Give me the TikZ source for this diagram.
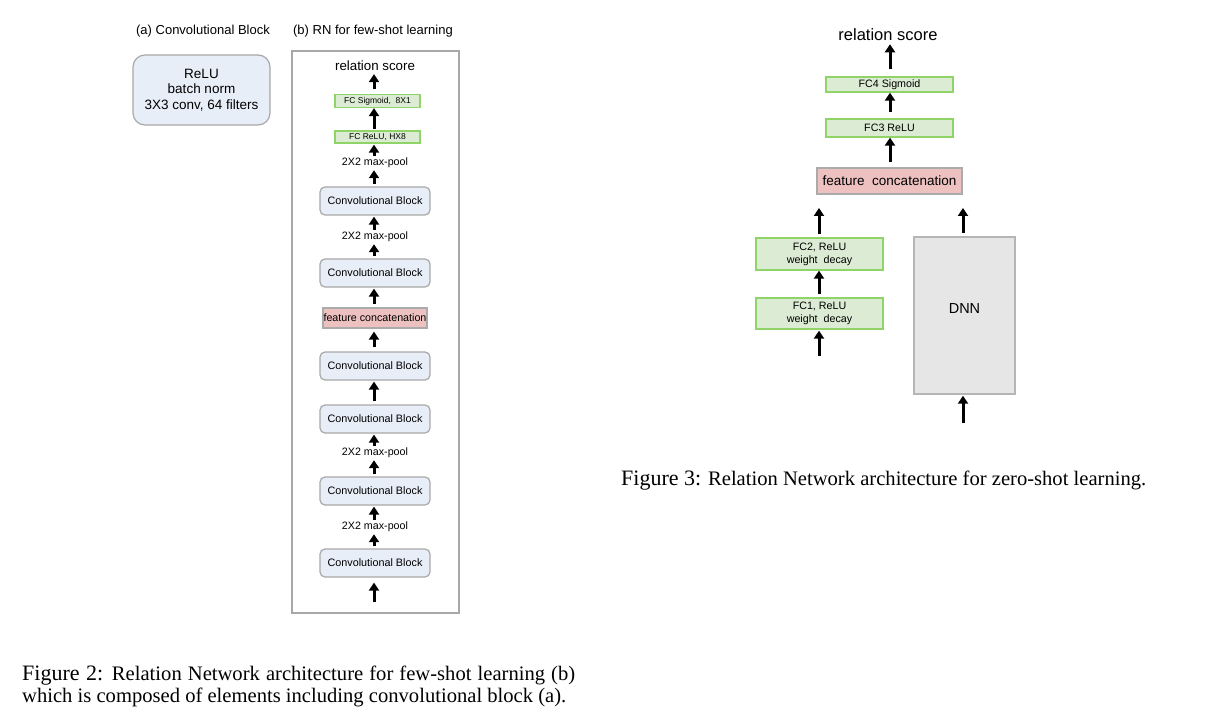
\documentclass[tikz,border=0pt]{standalone}
\usepackage{fontspec}
\setmainfont{Liberation Serif}
\setsansfont{Liberation Sans}
\usetikzlibrary{arrows.meta}
\definecolor{cbfill}{HTML}{E8EEF8}
\definecolor{cbdraw}{HTML}{A8A8A8}
\definecolor{gfill}{HTML}{DCEBD3}
\definecolor{gdraw}{HTML}{8FD466}
\definecolor{pfill}{HTML}{EEC1C1}
\definecolor{pdraw}{HTML}{ABABAB}
\definecolor{dfill}{HTML}{E6E6E6}
\definecolor{ddraw}{HTML}{B5B5B5}
\newcommand{\fs}[1]{\fontsize{#1}{#1}\selectfont}
\tikzset{
  lbl/.style={font=\sffamily\fs{10.7}, inner sep=1pt},
  convblk/.style={draw=cbdraw, fill=cbfill, line width=1.2pt, rounded corners=5pt,
    minimum width=110pt, minimum height=28pt, inner sep=0pt, font=\sffamily\fs{10.8}},
  gbox/.style={draw=gdraw, fill=gfill, line width=1.3pt, inner sep=0pt, align=center},
  pbox/.style={draw=pdraw, fill=pfill, line width=1.3pt, inner sep=0pt},
  arr/.style={line width=3pt, -{Triangle[width=10pt,length=8pt]}},
}
\begin{document}
\begin{tikzpicture}[x=1pt,y=-1pt]
\useasboundingbox[fill=white] (0,0) rectangle (1214,727);

% ---------- Figure 2 ----------
\node[font=\sffamily\fs{13}] (ta) at (203,31) {(a) Convolutional Block};
\node[font=\sffamily\fs{13}] (tb) at (373,31) {(b) RN for few-shot learning};

\node[draw=cbdraw, fill=cbfill, line width=1.2pt, rounded corners=12pt,
  minimum width=137pt, minimum height=70pt, align=center, inner sep=0pt,
  font=\sffamily\fs{13.5}, execute at begin node={\baselineskip=15.5pt}] (blka) at (201.5,90)
  {ReLU\\batch norm\\3X3 conv, 64 filters};

\node[draw=cbdraw, line width=1.2pt, minimum width=167pt, minimum height=562pt, inner sep=0pt] (panel) at (375.5,332) {};

\node[font=\sffamily\fs{13.3}, inner sep=1pt] (rs1) at (375,66) {relation score};
\node[gbox, minimum width=85pt, minimum height=13pt, font=\sffamily\fs{8.5}] (fcs) at (377.5,101) {FC Sigmoid,\ \ 8X1};
\node[gbox, minimum width=85pt, minimum height=12pt, font=\sffamily\fs{8.5}] (fcr) at (377.5,137) {FC ReLU, HX8};
\node[lbl] (mp1) at (375,163) {2X2 max-pool};
\node[convblk] (cb1) at (375,201) {Convolutional Block};
\node[lbl] (mp2) at (375,237) {2X2 max-pool};
\node[convblk] (cb2) at (375,273) {Convolutional Block};
\node[pbox, minimum width=104pt, minimum height=20pt, font=\sffamily\fs{10.7}] (fcat) at (375,318) {feature concatenation};
\node[convblk] (cb3) at (375,366) {Convolutional Block};
\node[convblk] (cb4) at (375,419) {Convolutional Block};
\node[lbl] (mp3) at (375,453) {2X2 max-pool};
\node[convblk] (cb5) at (375,491) {Convolutional Block};
\node[lbl] (mp4) at (375,527) {2X2 max-pool};
\node[convblk] (cb6) at (375,563) {Convolutional Block};
\coordinate (in1) at (374,602);

\draw[arr, shorten <=5pt, shorten >=2pt] (fcs.north -| 374,0) -- (rs1.south -| 374,0);
\draw[arr, shorten <=1pt] (fcr.north -| 374,0) -- (fcs.south -| 374,0);
\draw[arr, shorten <=1pt, shorten >=1pt] (mp1.north -| 374,0) -- (fcr.south -| 374,0);
\draw[arr, shorten <=2pt, shorten >=1pt] (cb1.north -| 374,0) -- (mp1.south -| 374,0);
\draw[arr, shorten <=1pt, shorten >=1pt] (mp2.north -| 374,0) -- (cb1.south -| 374,0);
\draw[arr, shorten <=2pt, shorten >=1pt] (cb2.north -| 374,0) -- (mp2.south -| 374,0);
\draw[arr, shorten <=3pt, shorten >=1pt] (fcat.north -| 374,0) -- (cb2.south -| 374,0);
\draw[arr, shorten <=4pt, shorten >=3pt] (cb3.north -| 374,0) -- (fcat.south -| 374,0);
\draw[arr, shorten <=3pt, shorten >=1pt] (cb4.north -| 374,0) -- (cb3.south -| 374,0);
\draw[arr, shorten <=1pt, shorten >=1pt] (mp3.north -| 374,0) -- (cb4.south -| 374,0);
\draw[arr, shorten <=2pt, shorten >=1pt] (cb5.north -| 374,0) -- (mp3.south -| 374,0);
\draw[arr, shorten <=1pt, shorten >=1pt] (mp4.north -| 374,0) -- (cb5.south -| 374,0);
\draw[arr, shorten <=2pt, shorten >=1pt] (cb6.north -| 374,0) -- (mp4.south -| 374,0);
\draw[arr, shorten >=5pt] (in1) -- (cb6.south -| 374,0);

% ---------- Figure 3 ----------
\node[font=\sffamily\fs{16.5}, inner sep=1pt] (rs2) at (888,35) {relation score};
\node[gbox, minimum width=127pt, minimum height=15pt, font=\sffamily\fs{10.7}] (fc4) at (889.5,84.5) {FC4 Sigmoid};
\node[gbox, minimum width=127pt, minimum height=18pt, font=\sffamily\fs{10.7}] (fc3) at (889.5,128) {FC3 ReLU};
\node[pbox, minimum width=145pt, minimum height=26pt, font=\sffamily\fs{13.5}] (fcat2) at (889.5,181) {feature\ \ concatenation};
\node[gbox, minimum width=127pt, minimum height=32pt, font=\sffamily\fs{10.7},
  execute at begin node={\baselineskip=13pt}] (fc2) at (819.5,254) {FC2, ReLU\\weight\ \ decay};
\node[gbox, minimum width=127pt, minimum height=31pt, font=\sffamily\fs{10.7},
  execute at begin node={\baselineskip=13pt}] (fc1) at (819.5,313.5) {FC1, ReLU\\weight\ \ decay};
\node[draw=ddraw, fill=dfill, line width=1.4pt, minimum width=101pt, minimum height=157pt,
  inner sep=0pt, font=\sffamily\fs{14.5}] (dnn) at (964.5,315.5) {\raisebox{14pt}{DNN}};
\coordinate (o2) at (819,208);
\coordinate (od) at (963,208);
\coordinate (in2) at (819,356);
\coordinate (ind) at (963,423);

\draw[arr, shorten <=7pt, shorten >=2pt] (fc4.north -| 890,0) -- (rs2.south -| 890,0);
\draw[arr, shorten <=6pt] (fc3.north -| 890,0) -- (fc4.south -| 890,0);
\draw[arr, shorten <=5pt] (fcat2.north -| 890,0) -- (fc3.south -| 890,0);
\draw[arr, shorten <=3pt] (fc2.north -| 819,0) -- (o2);
\draw[arr, shorten <=3pt] (dnn.north -| 963,0) -- (od);
\draw[arr, shorten <=3pt] (fc1.north -| 819,0) -- (fc2.south -| 819,0);
\draw[arr, shorten >=1pt] (in2) -- (fc1.south -| 819,0);
\draw[arr, shorten >=1pt] (ind) -- (dnn.south -| 963,0);

% ---------- captions ----------
\node[anchor=west, inner sep=0pt, font=\rmfamily\fs{20.6}] (cap3) at (621,481)
  {{\fs{22}Figure 3:} Relation Network architecture for zero-shot learning.};
\node[anchor=west, inner sep=0pt, font=\rmfamily\fs{20.6}] (cap2a) at (22,676)
  {\makebox[553pt][s]{{\fs{22}Figure 2:} Relation Network architecture for few-shot learning (b)}};
\node[anchor=west, inner sep=0pt, font=\rmfamily\fs{20.6}] (cap2b) at (22,697)
  {which is composed of elements including convolutional block (a).};
\end{tikzpicture}
\end{document}
